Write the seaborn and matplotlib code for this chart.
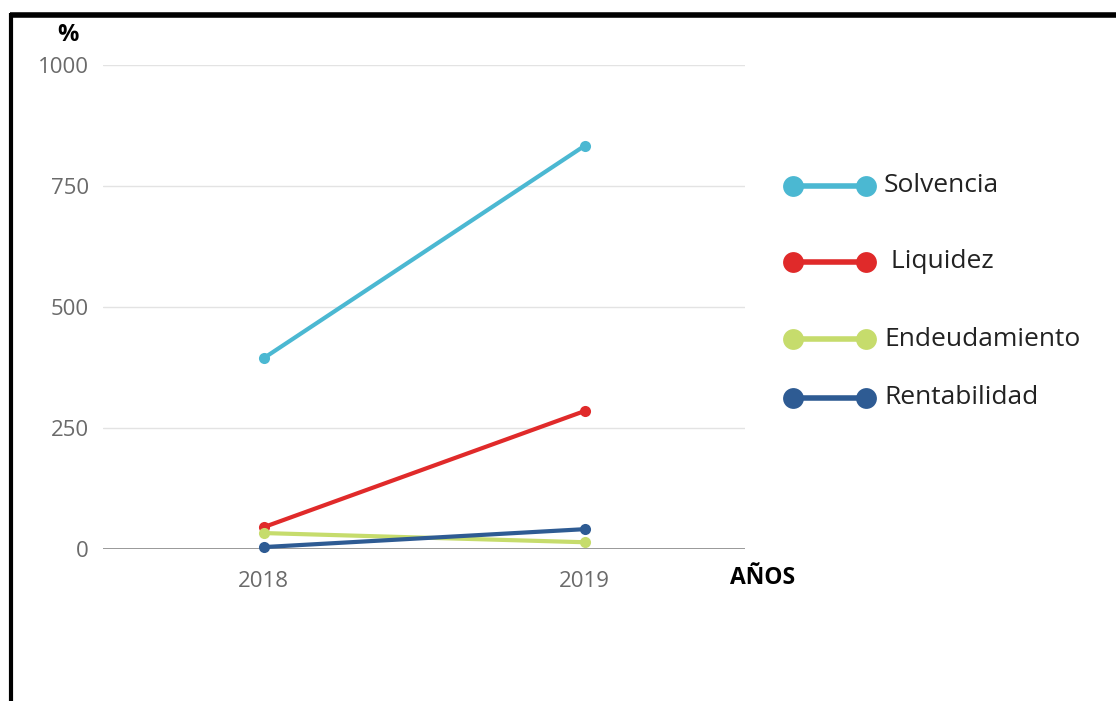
import numpy as np
import pandas as pd
import matplotlib
matplotlib.use("Agg")
import matplotlib.pyplot as plt
from matplotlib.lines import Line2D
import seaborn as sns

anios = ["2018", "2019"]
series = ["Solvencia", "Liquidez", "Endeudamiento", "Rentabilidad"]
solvencia = [394, 833]
liquidez = [45, 285]
endeudamiento = [33, 14]
rentabilidad = [4, 41]
colores = ["#4bb8d2", "#e02a2a", "#c6dc6c", "#2e5b93"]
yticks = [0, 250, 500, 750, 1000]

df = pd.DataFrame({
    "anio": anios * 4,
    "serie": np.repeat(series, 2),
    "valor": solvencia + liquidez + endeudamiento + rentabilidad,
})

sns.set_theme(style="white")
plt.rcParams["font.family"] = ["Open Sans", "DejaVu Sans"]

fig = plt.figure(figsize=(11.16, 7.01), dpi=100)
ax = fig.add_axes([0.0923, 0.2168, 0.5753, 0.6905])

for y in yticks:
    ax.axhline(y, color="#999999" if y == 0 else "#e3e3e3",
               lw=1.4 if y == 0 else 1.0, zorder=0)

sns.lineplot(data=df, x="anio", y="valor", hue="serie", palette=colores,
             marker="o", markersize=8, markeredgewidth=0, linewidth=3.0,
             ax=ax, legend=False, clip_on=False, zorder=3)

ax.set_xlim(-0.5, 1.5)
ax.set_ylim(0, 1000)
ax.set_yticks(yticks)
ax.set_yticklabels([str(v) for v in yticks])
ax.tick_params(axis="both", length=0, labelsize=16, labelcolor="#6a6a6a")
ax.tick_params(axis="y", pad=10)
ax.tick_params(axis="x", pad=16)
ax.set_xlabel("")
ax.set_ylabel("")
for s in ax.spines.values():
    s.set_visible(False)

W, H = 1116, 701
fig.text(68 / W, 1 - 35 / H, "%", fontsize=17, fontweight="bold",
         color="black", ha="center", va="center")
fig.text(730 / W, 1 - 578 / H, "AÑOS", fontsize=16.5, fontweight="bold",
         color="black", ha="left", va="center")

# leyenda manual
leg_y = [186, 262, 339, 398]
labels = ["Solvencia", " Liquidez", "Endeudamiento", "Rentabilidad"]
for yy, lab, col in zip(leg_y, labels, colores):
    fy = 1 - yy / H
    fig.add_artist(Line2D([793 / W, 866 / W], [fy, fy], color=col, lw=4,
                          marker="o", markersize=15, markeredgewidth=0,
                          transform=fig.transFigure))
    fig.text(884 / W, fy, lab, fontsize=19, color="#222222",
             ha="left", va="center")

# marco negro
fig.add_artist(Line2D([10 / W, 1], [1 - 15 / H, 1 - 15 / H], color="black",
                      lw=4, transform=fig.transFigure, solid_capstyle="butt"))
fig.add_artist(Line2D([11 / W, 11 / W], [0, 1 - 13 / H], color="black",
                      lw=3, transform=fig.transFigure, solid_capstyle="butt"))

fig.savefig("out.png", dpi=100, facecolor="white")
